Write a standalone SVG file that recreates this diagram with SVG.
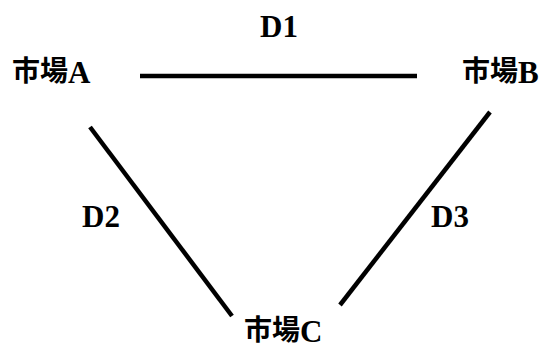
<svg xmlns="http://www.w3.org/2000/svg" width="547" height="349" viewBox="0 0 547 349">
<style>
text{font-family:"Liberation Serif","Noto Sans CJK JP",serif;font-weight:bold;font-size:31px;fill:#000}
.j{font-family:"Noto Sans CJK JP",sans-serif;font-size:28px}
.e{stroke:#000;stroke-width:4.5;fill:none}
</style>
<rect width="547" height="349" fill="#fff"/>
<g id="connectors">
<line class="e" x1="140" y1="76" x2="417" y2="76"/>
<line class="e" x1="90" y1="127" x2="232" y2="316"/>
<line class="e" x1="490" y1="112" x2="340" y2="305"/>
</g>
<g id="marketA"><text x="12" y="83"><tspan class="j" dy="-2">市場</tspan><tspan dy="2">A</tspan></text></g>
<g id="marketB"><text x="462" y="83"><tspan class="j" dy="-2">市場</tspan><tspan dy="2">B</tspan></text></g>
<g id="marketC"><text x="244" y="342"><tspan class="j" dy="-2">市場</tspan><tspan dy="2">C</tspan></text></g>
<g id="D1"><text x="260" y="37">D1</text></g>
<g id="D2"><text x="82" y="227">D2</text></g>
<g id="D3"><text x="431" y="227">D3</text></g>
</svg>
